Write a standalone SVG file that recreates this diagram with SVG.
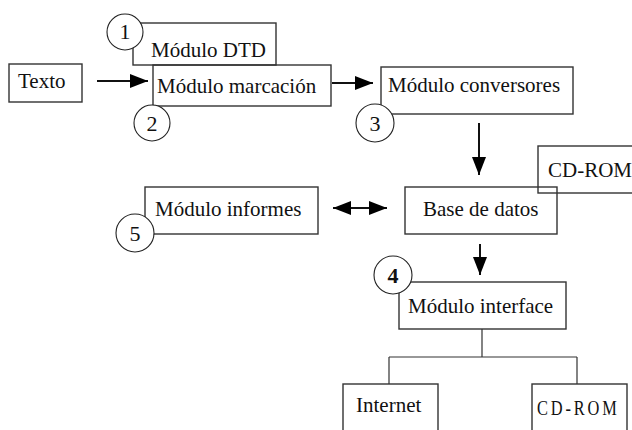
<svg xmlns="http://www.w3.org/2000/svg" width="632" height="430" viewBox="0 0 632 430">
<defs>
<marker id="ah" viewBox="0 0 18 14" refX="18" refY="7" markerWidth="18" markerHeight="14" markerUnits="userSpaceOnUse" orient="auto-start-reverse">
<path d="M0,0 L18,7 L0,14 Z" fill="#000"/>
</marker>
<style>
.box{fill:none;stroke:#333;stroke-width:1.4}
.circ{fill:#fff;stroke:#222;stroke-width:1.1}
.t{font-family:"Liberation Serif","Times New Roman",serif;font-size:21px;fill:#111}
.n{font-family:"Liberation Serif","Times New Roman",serif;font-size:22px;fill:#111;text-anchor:middle}
.ln{stroke:#111;stroke-width:2;fill:none}
.tr{stroke:#333;stroke-width:1.2;fill:none}
</style>
</defs>
<rect width="632" height="430" fill="#fff"/>
<g id="connectors">
<line class="ln" x1="97" y1="81" x2="148" y2="81" marker-end="url(#ah)"/>
<line class="ln" x1="332" y1="83" x2="373" y2="83" marker-end="url(#ah)"/>
<line class="ln" x1="479" y1="123" x2="479" y2="175" marker-end="url(#ah)"/>
<line class="ln" x1="333" y1="208" x2="387" y2="208" marker-start="url(#ah)" marker-end="url(#ah)"/>
<line class="ln" x1="480" y1="244" x2="480" y2="275" marker-end="url(#ah)"/>
<path class="tr" d="M482,329 V357 M389,357 H577 M389,357 V384 M577,357 V384"/>
</g>
<g id="texto"><rect class="box" x="9" y="64" width="73" height="38"/><text class="t" x="18" y="88">Texto</text></g>
<g id="dtd"><rect class="box" x="133" y="23" width="143" height="42"/><text class="t" x="151" y="57">Módulo DTD</text></g>
<g id="marcacion"><rect class="box" x="153" y="65" width="178" height="41"/><text class="t" x="157" y="93">Módulo marcación</text></g>
<g id="conversores"><rect class="box" x="381" y="67" width="192" height="47"/><text class="t" x="388" y="92">Módulo conversores</text></g>
<g id="cdrom1"><rect class="box" x="538" y="146" width="110" height="47"/><text class="t" x="548" y="177">CD-ROM</text></g>
<g id="base"><rect class="box" x="405" y="187" width="152" height="47"/><text class="t" x="423" y="216">Base de datos</text></g>
<g id="informes"><rect class="box" x="145" y="187" width="173" height="47"/><text class="t" x="155" y="216">Módulo informes</text></g>
<g id="interface"><rect class="box" x="399" y="282" width="167" height="47"/><text class="t" x="408" y="313">Módulo interface</text></g>
<g id="internet"><rect class="box" x="343" y="384" width="95" height="60"/><text class="t" x="356" y="412">Internet</text></g>
<g id="cdrom2"><rect class="box" x="532" y="384" width="95" height="60"/><text class="t" transform="translate(537,415) scale(0.82,1)" x="0" y="0" style="font-size:20px;letter-spacing:3.5px">CD-ROM</text></g>
<g id="c1"><circle class="circ" cx="125" cy="32" r="18"/><text class="n" x="125" y="39">1</text></g>
<g id="c2"><circle class="circ" cx="152" cy="123" r="18"/><text class="n" x="152" y="131">2</text></g>
<g id="c3"><circle class="circ" cx="375" cy="123" r="19"/><text class="n" x="375" y="131">3</text></g>
<g id="c4"><circle class="circ" cx="393" cy="275" r="19"/><text class="n" x="393" y="283" font-weight="bold">4</text></g>
<g id="c5"><circle class="circ" cx="135" cy="233" r="19"/><text class="n" x="135" y="241">5</text></g>
</svg>
